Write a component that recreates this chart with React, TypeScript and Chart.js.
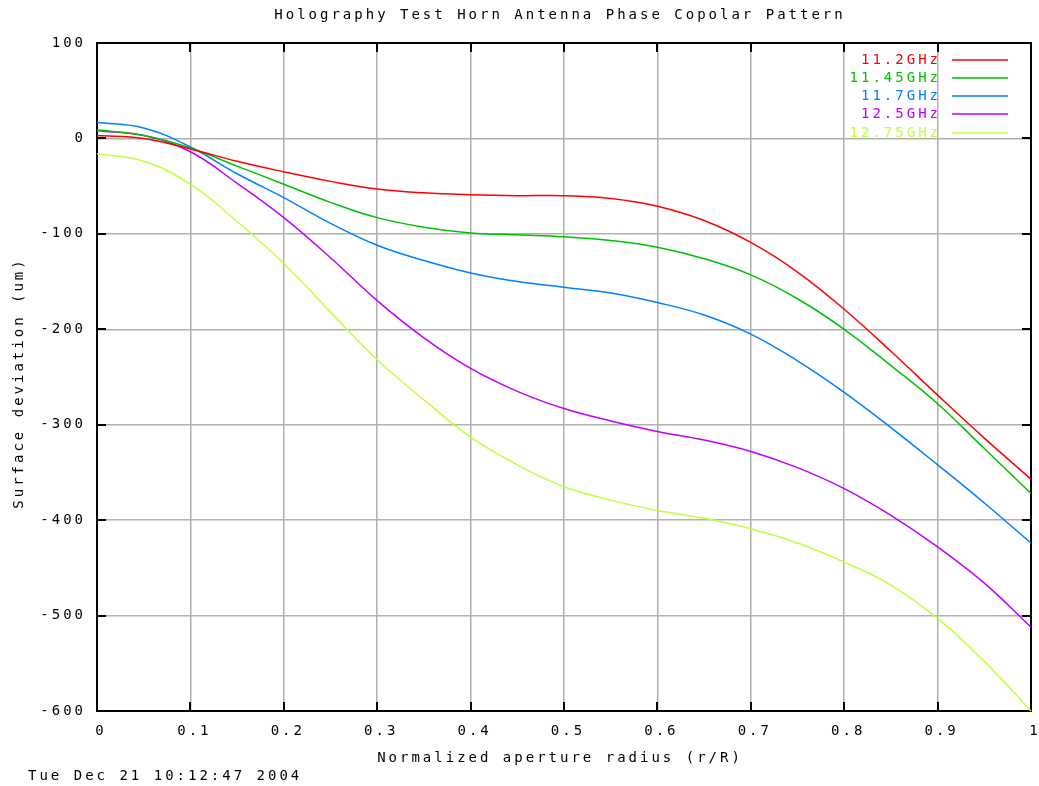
import React, { useEffect, useRef } from "react";
import { Chart, registerables } from "chart.js";

Chart.register(...registerables);

const radius = [0, 0.05, 0.1, 0.15, 0.2, 0.25, 0.3, 0.35, 0.4, 0.45, 0.5, 0.55, 0.6, 0.65, 0.7, 0.75, 0.8, 0.85, 0.9, 0.95, 1.0];

const f11_2 = [3, 0, -11, -24, -35, -45, -53, -57, -59, -60, -60, -63, -71, -86, -109, -140, -179, -223, -269, -314, -357];
const f11_45 = [9, 3, -10, -29, -48, -67, -83, -93, -99, -101, -103, -107, -114, -126, -143, -168, -200, -238, -278, -325, -372];
const f11_7 = [17, 11, -9, -37, -62, -89, -112, -128, -141, -150, -156, -162, -172, -185, -205, -233, -266, -303, -342, -382, -424];
const f12_5 = [8, 3, -14, -47, -83, -125, -170, -209, -241, -265, -283, -296, -307, -316, -328, -345, -367, -395, -428, -466, -512];
const f12_75 = [-16, -24, -48, -87, -131, -182, -232, -274, -313, -342, -365, -379, -390, -398, -409, -424, -444, -468, -503, -548, -600];

const seriesLabels = ["11.2GHz", "11.45GHz", "11.7GHz", "12.5GHz", "12.75GHz"];
const seriesColors = ["#ff0000", "#00c000", "#0080ff", "#c000ff", "#c0ff40"];
const seriesValues = [f11_2, f11_45, f11_7, f12_5, f12_75];

const titleText = "Holography Test Horn Antenna Phase Copolar Pattern";
const xLabel = "Normalized aperture radius (r/R)";
const yLabel = "Surface deviation (um)";
const stamp = "Tue Dec 21 10:12:47 2004";

const FONT = "DejaVu Sans Mono";
const LS = "3px";

const gnuPlugin = {
  id: "gnu",
  beforeUpdate(chart: any) {
    chart.ctx.letterSpacing = LS;
  },
  beforeLayout(chart: any) {
    chart.ctx.letterSpacing = LS;
  },
  beforeDraw(chart: any) {
    const ctx = chart.ctx;
    ctx.letterSpacing = LS;
    ctx.save();
    ctx.fillStyle = "#ffffff";
    ctx.fillRect(0, 0, chart.width, chart.height);
    ctx.restore();
  },
  beforeDatasetsDraw(chart: any) {
    const ctx = chart.ctx;
    const a = chart.chartArea;
    const xs = chart.scales.x;
    const ys = chart.scales.y;
    const tl = 9;
    ctx.save();
    ctx.strokeStyle = "#000000";
    ctx.lineWidth = 2;
    ctx.beginPath();
    xs.ticks.forEach((t: any) => {
      const px = Math.round(xs.getPixelForValue(t.value));
      ctx.moveTo(px, a.bottom);
      ctx.lineTo(px, a.bottom - tl);
      ctx.moveTo(px, a.top);
      ctx.lineTo(px, a.top + tl);
    });
    ys.ticks.forEach((t: any) => {
      const py = Math.round(ys.getPixelForValue(t.value));
      ctx.moveTo(a.left, py);
      ctx.lineTo(a.left + tl, py);
      ctx.moveTo(a.right, py);
      ctx.lineTo(a.right - tl, py);
    });
    ctx.stroke();
    ctx.strokeRect(a.left, a.top, a.right - a.left, a.bottom - a.top);
    ctx.restore();
  },
  afterDraw(chart: any) {
    const ctx = chart.ctx;
    const a = chart.chartArea;
    const cx = (a.left + a.right) / 2 - 4;
    ctx.save();
    ctx.letterSpacing = LS;
    ctx.font = `14px "${FONT}"`;
    ctx.fillStyle = "#000000";
    ctx.textBaseline = "middle";
    ctx.textAlign = "center";
    ctx.fillText(titleText, cx, 15);
    ctx.fillText(xLabel, cx, 758);
    ctx.textAlign = "left";
    ctx.fillText(stamp, 28, 776);
    ctx.save();
    ctx.translate(19, (a.top + a.bottom) / 2 + 6);
    ctx.rotate(-Math.PI / 2);
    ctx.textAlign = "center";
    ctx.fillText(yLabel, 0, 0);
    ctx.restore();
    const rows = [60, 78, 96, 114, 133];
    chart.data.datasets.forEach((ds: any, i: number) => {
      const y = rows[i];
      ctx.fillStyle = ds.borderColor;
      ctx.textAlign = "right";
      ctx.fillText(ds.label, 941, y);
      ctx.strokeStyle = ds.borderColor;
      ctx.lineWidth = 1.5;
      ctx.beginPath();
      ctx.moveTo(952, y);
      ctx.lineTo(1008, y);
      ctx.stroke();
    });
    ctx.restore();
  },
};

export default function App() {
  const ref = useRef<HTMLCanvasElement | null>(null);
  useEffect(() => {
    if (!ref.current) return;
    const datasets = seriesValues.map((vals, i) => ({
      label: seriesLabels[i],
      data: radius.map((r, j) => ({ x: r, y: vals[j] })),
      borderColor: seriesColors[i],
      backgroundColor: seriesColors[i],
      borderWidth: 1.5,
      pointRadius: 0,
      fill: false,
      tension: 0.4,
    }));
    const chart = new Chart(ref.current, {
      type: "line",
      data: { datasets },
      plugins: [gnuPlugin],
      options: {
        animation: false,
        responsive: true,
        maintainAspectRatio: false,
        layout: { padding: { left: 0, top: 43, right: 8, bottom: 0 } },
        plugins: { legend: { display: false }, tooltip: { enabled: false }, title: { display: false } },
        scales: {
          x: {
            type: "linear",
            min: 0,
            max: 1,
            afterFit: (s: any) => {
              s.height = 75;
              s.paddingLeft = 0;
              s.paddingRight = 0;
            },
            grid: { color: "#b0b0b0", lineWidth: 1.5, drawTicks: false },
            border: { display: false },
            ticks: {
              stepSize: 0.1,
              padding: 12,
              labelOffset: 4,
              maxRotation: 0,
              autoSkip: false,
              color: "#000000",
              font: { family: FONT, size: 14 },
              callback: (v: any) => (v === 0 ? "0" : v === 1 ? "1" : Number(v).toFixed(1)),
            },
          },
          y: {
            type: "linear",
            min: -600,
            max: 100,
            afterFit: (s: any) => {
              s.width = 97;
              s.paddingTop = 0;
              s.paddingBottom = 0;
            },
            grid: { color: "#b0b0b0", lineWidth: 1.5, drawTicks: false },
            border: { display: false },
            ticks: {
              stepSize: 100,
              padding: 11,
              color: "#000000",
              font: { family: FONT, size: 14 },
            },
          },
        },
      },
    });
    return () => chart.destroy();
  }, []);
  return (
    <div style={{ position: "absolute", left: 0, top: 0, width: 1039, height: 786, background: "#fff" }}>
      <canvas ref={ref} />
    </div>
  );
}
